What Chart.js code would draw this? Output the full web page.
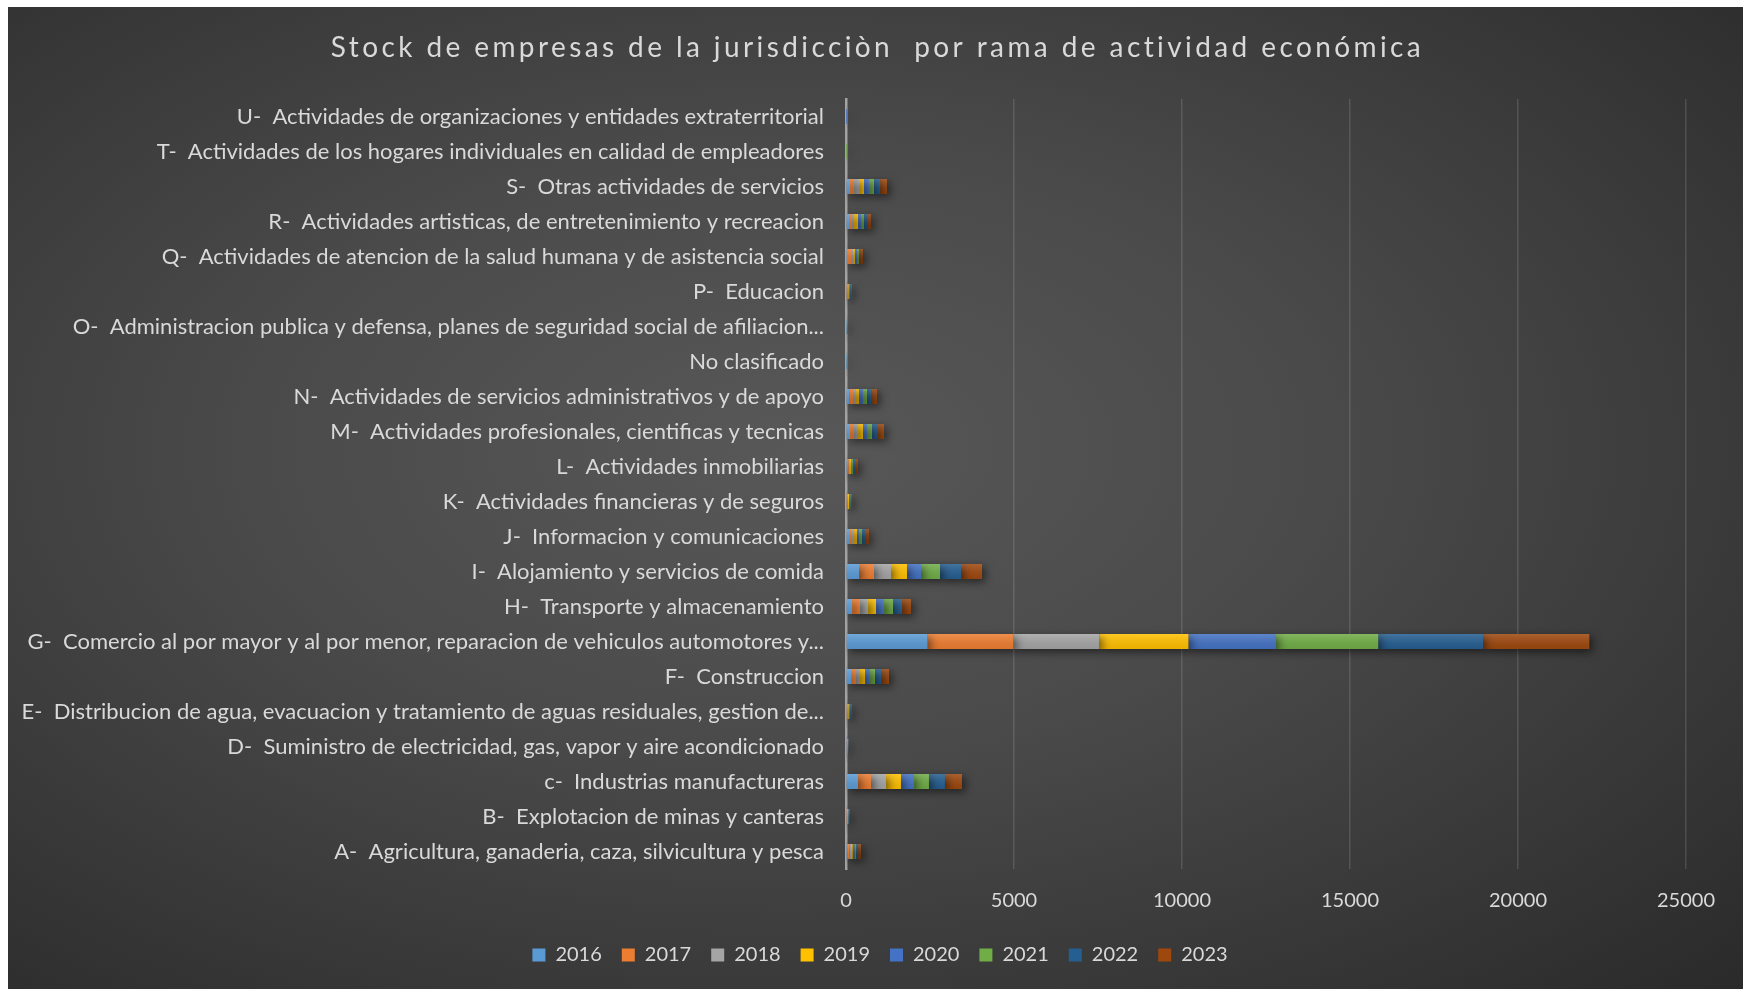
<!DOCTYPE html>
<html lang="es">
<head>
    <meta charset="UTF-8">
    <meta name="viewport" content="width=device-width, initial-scale=1.0">
    <title>Stock de empresas por rama de actividad</title>
    <style>
        body {
            margin: 0;
            background: #ffffff;
            overflow: hidden;
        }
        .chart-container {
            position: absolute;
            left: 8px;
            top: 7px;
            width: 1735px;
            height: 982px;
            background: radial-gradient(ellipse at 45% 45%, #585858 0%, #4a4a4a 40%, #2a2a2a 100%);
        }
    </style>
</head>
<body>
    <div class="chart-container">
        <canvas id="myChart"></canvas>
    </div>

    <script src="https://cdn.jsdelivr.net/npm/chart.js@4.4.0/dist/chart.umd.min.js"></script>
    <script>
        // Categorias (de abajo hacia arriba, como en el original)
        const categorias = [
            'A-  Agricultura, ganaderia, caza, silvicultura y pesca',
            'B-  Explotacion de minas y canteras',
            'c-  Industrias manufactureras',
            'D-  Suministro de electricidad, gas, vapor y aire acondicionado',
            'E-  Distribucion de agua, evacuacion y tratamiento de aguas residuales, gestion de...',
            'F-  Construccion',
            'G-  Comercio al por mayor y al por menor, reparacion de vehiculos automotores y...',
            'H-  Transporte y almacenamiento',
            'I-  Alojamiento y servicios de comida',
            'J-  Informacion y comunicaciones',
            'K-  Actividades financieras y de seguros',
            'L-  Actividades inmobiliarias',
            'M-  Actividades profesionales, cientificas y tecnicas',
            'N-  Actividades de servicios administrativos y de apoyo',
            'No clasificado',
            'O-  Administracion publica y defensa, planes de seguridad social de afiliacion...',
            'P-  Educacion',
            'Q-  Actividades de atencion de la salud humana y de asistencia social',
            'R-  Actividades artisticas, de entretenimiento y recreacion',
            'S-  Otras actividades de servicios',
            'T-  Actividades de los hogares individuales en calidad de empleadores',
            'U-  Actividades de organizaciones y entidades extraterritorial'
        ];

        const anios = ['2016', '2017', '2018', '2019', '2020', '2021', '2022', '2023'];

        // valores por año (mismo orden que categorias)
        const v2016 = [50, 15, 357, 10, 20, 149, 2430, 179, 387, 89, 20, 40, 119, 99, 2, 5, 20, 60, 89, 119, 0, 0];
        const v2017 = [50, 15, 387, 10, 20, 149, 2555, 238, 446, 60, 20, 40, 119, 109, 2, 5, 20, 89, 89, 119, 0, 0];
        const v2018 = [50, 15, 446, 10, 20, 119, 2557, 238, 506, 89, 20, 40, 119, 89, 2, 5, 20, 60, 60, 149, 0, 0];
        const v2019 = [50, 15, 446, 10, 20, 149, 2650, 238, 476, 89, 30, 40, 149, 89, 5, 5, 20, 60, 119, 149, 0, 0];
        const v2020 = [50, 15, 387, 10, 20, 149, 2607, 238, 417, 60, 20, 20, 119, 119, 5, 5, 20, 60, 89, 149, 0, 1];
        const v2021 = [50, 15, 446, 10, 20, 149, 3041, 268, 565, 89, 20, 30, 149, 119, 5, 10, 20, 60, 89, 149, 1, 1];
        const v2022 = [60, 15, 476, 15, 25, 188, 3125, 268, 625, 89, 20, 60, 149, 129, 5, 10, 25, 30, 89, 179, 1, 1];
        const v2023 = [90, 15, 506, 15, 25, 228, 3158, 268, 625, 119, 30, 90, 208, 169, 5, 10, 30, 89, 119, 208, 1, 1];

        const colores = ['#5B9BD5', '#ED7D31', '#A5A5A5', '#FFC000', '#4472C4', '#70AD47', '#255E91', '#9E480E'];
        const series = [v2016, v2017, v2018, v2019, v2020, v2021, v2022, v2023];

        const ticksX = [0, 5000, 10000, 15000, 20000, 25000];

        const titulo = 'Stock de empresas de la jurisdicciòn  por rama de actividad económica';
        const texto = '#d9d9d9';
        const fuente = 'Lato, "Open Sans", sans-serif';

        // sombra y brillo de las barras (estilo Excel)
        const sombraBarras = {
            id: 'sombraBarras',
            beforeDatasetsDraw(chart) {
                const ctx = chart.ctx;
                ctx.save();
                ctx.shadowColor = 'rgba(0,0,0,0.55)';
                ctx.shadowBlur = 8;
                ctx.shadowOffsetX = 3;
                ctx.shadowOffsetY = 3;
            },
            afterDatasetsDraw(chart) {
                const ctx = chart.ctx;
                ctx.restore();
                ctx.save();
                chart.data.datasets.forEach((ds, i) => {
                    chart.getDatasetMeta(i).data.forEach(bar => {
                        const w = bar.x - bar.base;
                        if (w <= 0) return;
                        const top = bar.y - bar.height / 2;
                        const g = ctx.createLinearGradient(0, top, 0, top + bar.height);
                        g.addColorStop(0, 'rgba(255,255,255,0.14)');
                        g.addColorStop(1, 'rgba(0,0,0,0.08)');
                        ctx.fillStyle = g;
                        ctx.fillRect(bar.base, top, w, bar.height);
                    });
                });
                ctx.restore();
            }
        };

        // titulo con espaciado entre letras
        const tituloPlugin = {
            id: 'tituloPlugin',
            afterLayout(chart) {
                // la leyenda del original queda centrada en todo el ancho del grafico
                if (chart.legend) {
                    chart.legend.left += 33;
                    chart.legend.right += 33;
                }
            },
            afterDraw(chart) {
                const ctx = chart.ctx;
                ctx.save();
                ctx.font = '28px ' + fuente;
                ctx.fillStyle = texto;
                if ('letterSpacing' in ctx) ctx.letterSpacing = '3.4px';
                ctx.textAlign = 'center';
                ctx.textBaseline = 'middle';
                ctx.fillText(titulo, chart.width / 2 + 2, 41);
                ctx.restore();
            }
        };

        document.addEventListener('DOMContentLoaded', function() {
            const ctx = document.getElementById('myChart');

            const datasets = anios.map((a, i) => ({
                label: a,
                data: series[i],
                backgroundColor: colores[i],
                borderWidth: 0,
                categoryPercentage: 1,
                barPercentage: 0.43
            }));

            new Chart(ctx, {
                type: 'bar',
                data: { labels: categorias, datasets: datasets },
                plugins: [sombraBarras, tituloPlugin],
                options: {
                    indexAxis: 'y',
                    responsive: true,
                    maintainAspectRatio: false,
                    animation: false,
                    layout: { padding: { top: 92, right: 57, bottom: 14, left: 0 } },
                    plugins: {
                        title: { display: false },
                        tooltip: { enabled: false },
                        legend: {
                            position: 'bottom',
                            labels: {
                                color: texto,
                                font: { family: fuente, size: 20 },
                                boxWidth: 13,
                                boxHeight: 13,
                                padding: 20
                            }
                        }
                    },
                    scales: {
                        x: {
                            stacked: true,
                            min: 0,
                            max: 25000,
                            afterBuildTicks: s => { s.ticks = ticksX.map(v => ({ value: v })); },
                            afterFit: s => { s.height = 56; },
                            ticks: {
                                color: texto,
                                font: { family: fuente, size: 20 },
                                padding: 20,
                                callback: v => String(v)
                            },
                            grid: {
                                color: 'rgba(255,255,255,0.13)',
                                lineWidth: 1.5,
                                drawTicks: false
                            },
                            border: { display: false }
                        },
                        y: {
                            stacked: true,
                            reverse: true,
                            afterFit: s => { s.width = 838; },
                            ticks: {
                                color: texto,
                                font: { family: fuente, size: 22 },
                                padding: 22,
                                autoSkip: false
                            },
                            grid: { display: false, drawTicks: false },
                            border: { display: true, color: '#a3a3a3', width: 2.5 }
                        }
                    }
                }
            });
        });
    </script>
</body>
</html>
